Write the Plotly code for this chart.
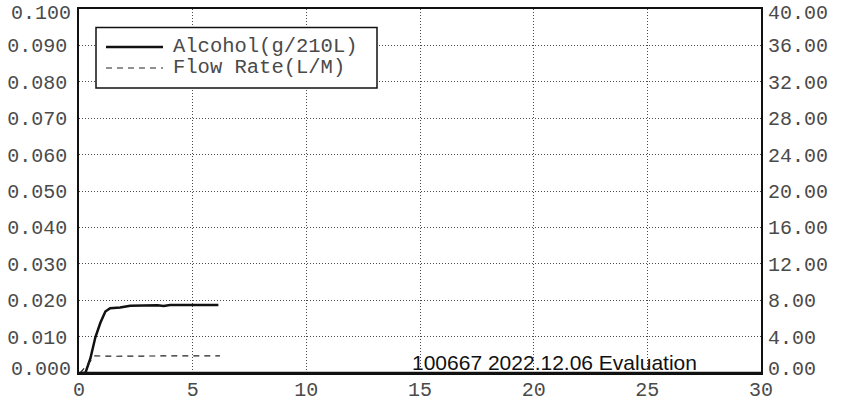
import plotly.graph_objects as go

# ---- data ----
time_alcohol = [0.05, 0.28, 0.50, 0.72, 0.94, 1.16, 1.37, 1.60, 1.81, 2.25, 2.70, 3.13, 3.45, 3.72, 4.01, 4.45, 4.89, 5.46, 6.13]
alcohol = [0.0, 0.0, 0.0040, 0.0098, 0.0138, 0.0169, 0.0178, 0.0179, 0.0180, 0.0185, 0.0186, 0.0187, 0.0186, 0.0184, 0.0187, 0.0187, 0.0187, 0.0188, 0.0187]

time_flow = [0.05, 0.70, 1.50, 2.50, 4.00, 5.00, 6.20]
flow_rate = [0.0, 1.88, 1.84, 1.88, 1.88, 1.88, 1.88]

series_names = ["Alcohol(g/210L)", "Flow Rate(L/M)"]
x_ticks = [0, 5, 10, 15, 20, 25, 30]
left_ticks = [0.000, 0.010, 0.020, 0.030, 0.040, 0.050, 0.060, 0.070, 0.080, 0.090, 0.100]
right_ticks = [0, 4, 8, 12, 16, 20, 24, 28, 32, 36, 40]
stamp_text = "100667 2022.12.06 Evaluation"

MONO = "Liberation Mono"
W, H = 848, 404
# plot area in window pixels: x 79..761, y 9..373
ML, MR, MT, MB = 79, 848 - 761, 9, 404 - 373
PW, PH = W - ML - MR, H - MT - MB


def px(x):        # window pixel -> paper x
    return (x - ML) / PW


def py(y):        # window pixel -> paper y
    return (H - MB - y) / PH


fig = go.Figure()
fig.add_trace(go.Scatter(x=time_alcohol, y=alcohol, name=series_names[0], mode="lines",
                         line=dict(color="#111111", width=2.5), showlegend=False))
fig.add_trace(go.Scatter(x=time_flow, y=flow_rate, name=series_names[1], mode="lines",
                         line=dict(color="#222222", width=1.2, dash="6px,5px"),
                         yaxis="y2", showlegend=False))

TICK_COLOR = "#4a4a4a"
tickfont = dict(family=MONO, size=20, color=TICK_COLOR)
grid = dict(showgrid=True, gridcolor="#4a4a4a", griddash="1px,2px", gridwidth=1)

inner_left = left_ticks[1:-1]
inner_right = right_ticks[1:-1]

fig.update_layout(
    width=W, height=H,
    margin=dict(l=ML, r=MR, t=MT, b=MB, autoexpand=False),
    paper_bgcolor="white", plot_bgcolor="white",
    xaxis=dict(range=[0, 30], tickvals=x_ticks, ticktext=[str(v) for v in x_ticks],
               showline=True, linecolor="#111111", linewidth=1.5, mirror=True,
               ticks="", tickfont=tickfont, ticklabelstandoff=-3, zeroline=False,
               automargin=False, **grid),
    yaxis=dict(range=[0, 0.1], tickvals=inner_left,
               ticktext=[f"{v:.3f}" for v in inner_left],
               showline=True, linecolor="#111111", linewidth=1.5, mirror=True,
               ticks="", tickfont=tickfont, ticklabelstandoff=6, zeroline=False,
               automargin=False, **grid),
    yaxis2=dict(range=[0, 40], tickvals=inner_right,
                ticktext=[f"{v:.2f}" for v in inner_right],
                overlaying="y", side="right", showgrid=False, showline=False,
                ticks="", tickfont=tickfont, ticklabelstandoff=6, zeroline=False,
                automargin=False),
)

# end tick labels sit slightly inside the frame in the reference
for val_l, val_r, ypix in [(left_ticks[-1], right_ticks[-1], 13.5), (left_ticks[0], right_ticks[0], 369)]:
    fig.add_annotation(xref="paper", yref="paper", x=px(72), y=py(ypix), xanchor="right",
                       yanchor="middle", text=f"{val_l:.3f}", showarrow=False, borderpad=0,
                       font=tickfont)
    fig.add_annotation(xref="paper", yref="paper", x=px(767), y=py(ypix), xanchor="left",
                       yanchor="middle", text=f"{val_r:.2f}", showarrow=False, borderpad=0,
                       font=tickfont)

# thicker bottom axis line
fig.add_shape(type="line", xref="paper", yref="paper", x0=0, x1=1, y0=0, y1=0,
              line=dict(color="#111111", width=2.5))

# legend box drawn to match the reference geometry
fig.add_shape(type="rect", xref="paper", yref="paper",
              x0=px(96), x1=px(377), y0=py(88), y1=py(27.5),
              line=dict(color="#111111", width=1.5), fillcolor="white", layer="above")
fig.add_shape(type="line", xref="paper", yref="paper",
              x0=px(106), x1=px(163), y0=py(47), y1=py(47),
              line=dict(color="#111111", width=2.5))
fig.add_shape(type="line", xref="paper", yref="paper",
              x0=px(106), x1=px(163), y0=py(68), y1=py(68),
              line=dict(color="#222222", width=1.2, dash="6px,5px"))
legend_text = "<br>".join(
    f"<span style='font-size:20.5px'>{n}</span>" for n in series_names)
fig.add_annotation(xref="paper", yref="paper", x=px(171), y=py(57.5), xanchor="left", yanchor="middle",
                   text=legend_text, showarrow=False, align="left",
                   font=dict(family=MONO, size=16, color=TICK_COLOR))

# stamp text
fig.add_annotation(xref="paper", yref="paper", x=px(410), y=0, xanchor="left", yanchor="bottom",
                   yshift=-3, text=stamp_text, showarrow=False,
                   font=dict(family="Liberation Sans", size=21, color="#111111"))

# remove the default 8px page margin so the figure fills the 848x404 window exactly
fig.write_html("out.html", config={"displayModeBar": False},
               post_script="document.body.style.margin='0px';")
